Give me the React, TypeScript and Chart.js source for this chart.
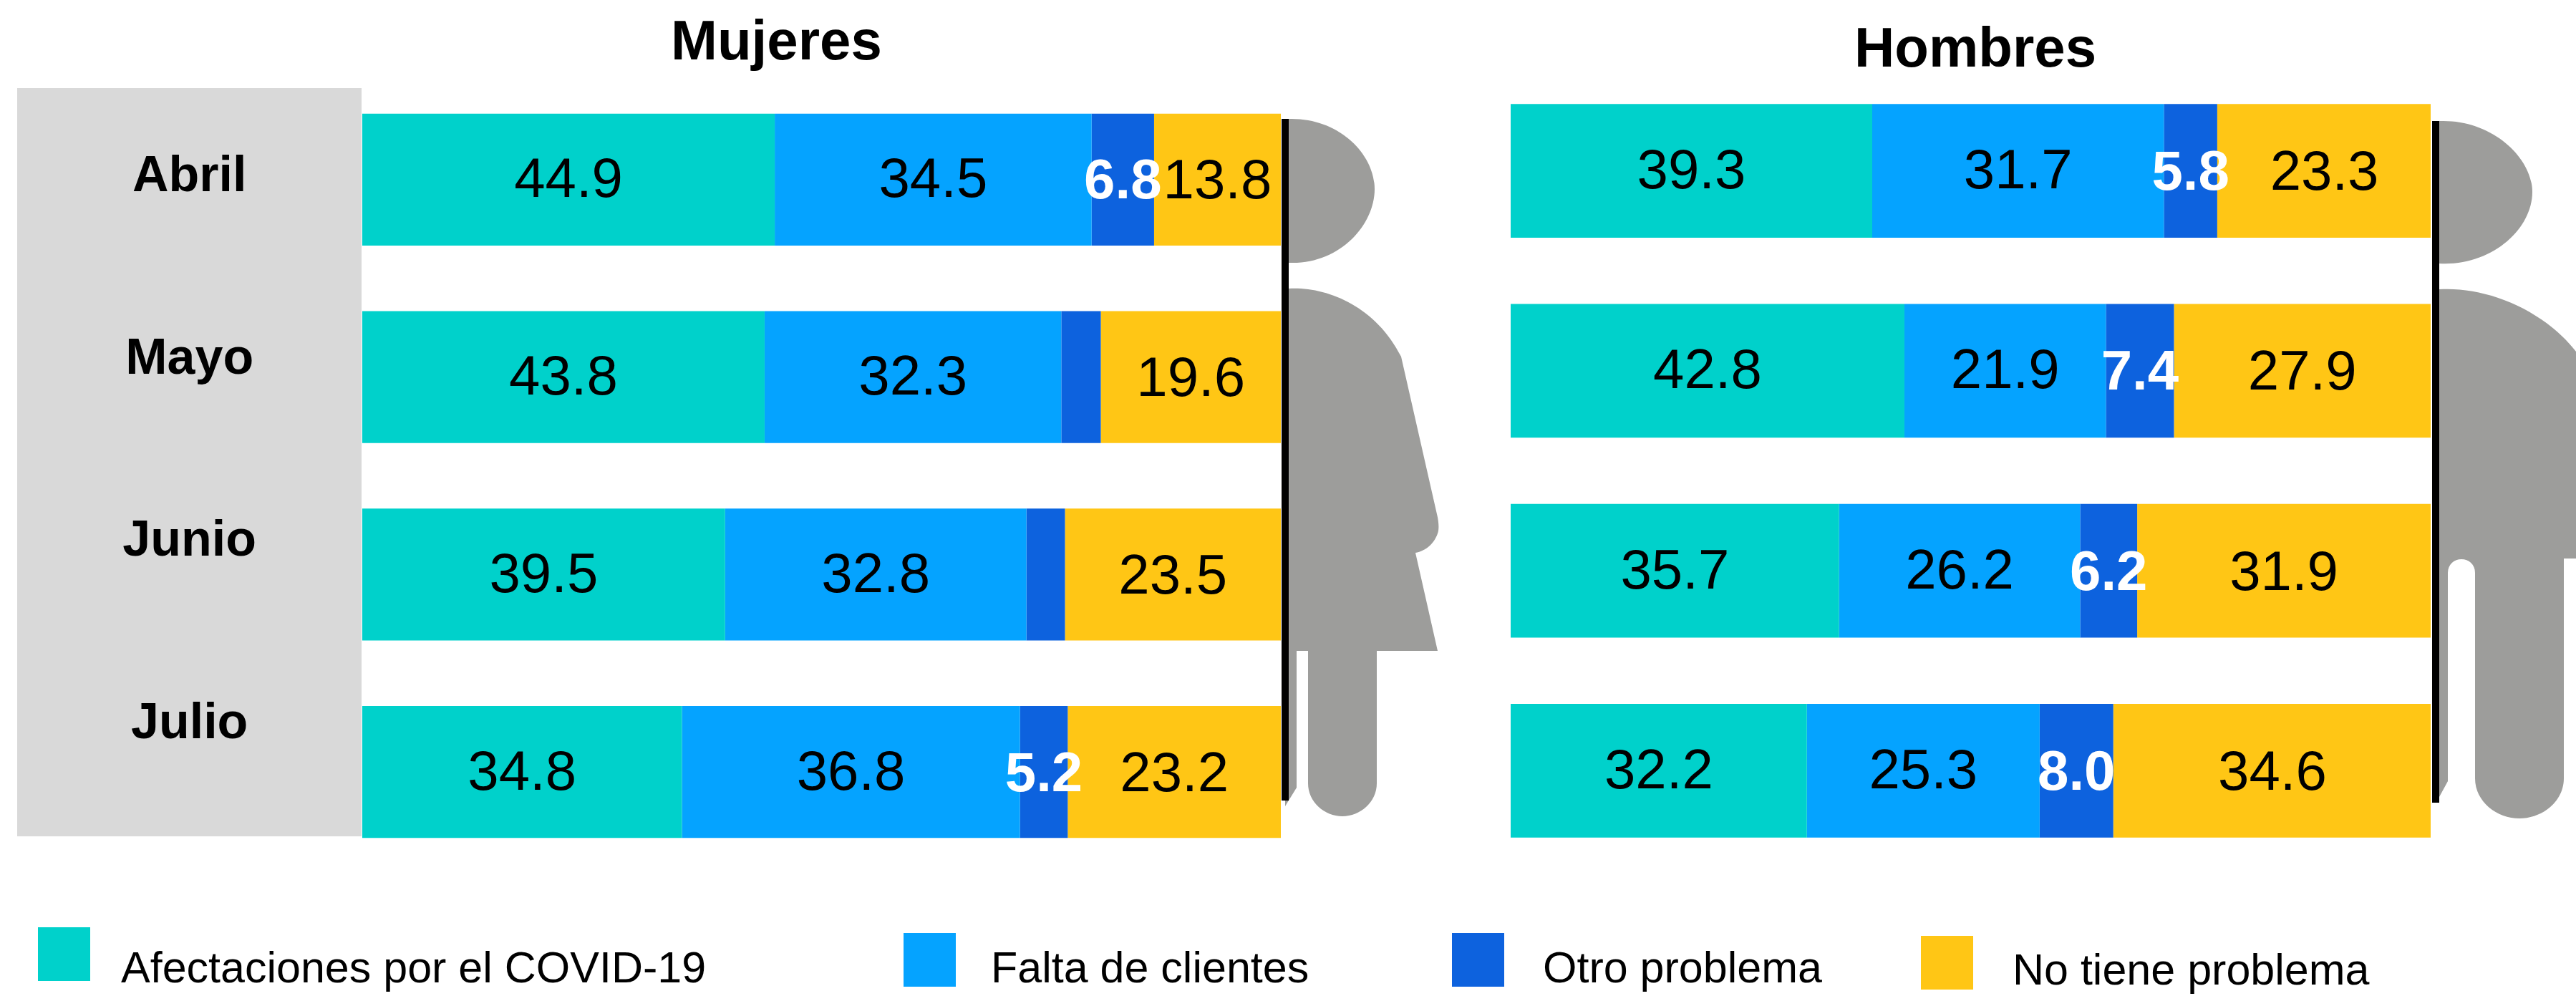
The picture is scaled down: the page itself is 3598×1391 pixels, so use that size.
import React, { useEffect, useRef } from "react";
import { Chart, registerables } from "chart.js";

Chart.register(...registerables);

const months = ["Abril", "Mayo", "Junio", "Julio"];
const seriesNames = ["Afectaciones por el COVID-19", "Falta de clientes", "Otro problema", "No tiene problema"];
const seriesColors = ["#00D1CB", "#05A3FF", "#0D62DE", "#FFC615"];

const mujeresCovid = [44.9, 43.8, 39.5, 34.8];
const mujeresClientes = [34.5, 32.3, 32.8, 36.8];
const mujeresOtro = [6.8, 4.3, 4.2, 5.2];
const mujeresNinguno = [13.8, 19.6, 23.5, 23.2];

const hombresCovid = [39.3, 42.8, 35.7, 32.2];
const hombresClientes = [31.7, 21.9, 26.2, 25.3];
const hombresOtro = [5.8, 7.4, 6.2, 8.0];
const hombresNinguno = [23.3, 27.9, 31.9, 34.6];

const FONT = '"Liberation Sans", Arial, sans-serif';
const LABEL_MIN = 5;
const LABEL_NUDGE_Y = [3, 3, 5, 5];

const valueLabels = {
  id: "valueLabels",
  afterDatasetsDraw(chart: any) {
    const { ctx } = chart;
    ctx.save();
    ctx.textAlign = "center";
    ctx.textBaseline = "middle";
    chart.data.datasets.forEach((ds: any, di: number) => {
      const meta = chart.getDatasetMeta(di);
      const isOther = di === 2;
      ctx.font = `${isOther ? "bold " : ""}78px ${FONT}`;
      ctx.fillStyle = isOther ? "#FFFFFF" : "#000000";
      meta.data.forEach((bar: any, i: number) => {
        const v = ds.data[i];
        if (v < LABEL_MIN) return;
        const p = bar.getProps(["x", "y", "base"], true);
        ctx.fillText(v.toFixed(1), (p.x + p.base) / 2, p.y + LABEL_NUDGE_Y[di]);
      });
    });
    ctx.restore();
  },
};

function makeDatasets(series: number[][]) {
  return series.map((data, i) => ({
    label: seriesNames[i],
    data,
    backgroundColor: seriesColors[i],
    borderWidth: 0,
    barPercentage: 0.668,
    categoryPercentage: 1,
  }));
}

function baseOptions(extraScales: any = {}) {
  return {
    indexAxis: "y",
    animation: false,
    responsive: false,
    maintainAspectRatio: false,
    layout: { padding: 0 },
    plugins: { legend: { display: false }, title: { display: false }, tooltip: { enabled: false } },
    scales: {
      x: { stacked: true, min: 0, max: 100, display: false },
      y: { stacked: true, display: false },
      ...extraScales,
    },
  };
}

function Panel({ series, left, top, width, height, extraScales }: any) {
  const ref = useRef<HTMLCanvasElement>(null);
  useEffect(() => {
    const chart = new Chart(ref.current as HTMLCanvasElement, {
      type: "bar",
      data: { labels: months, datasets: makeDatasets(series) },
      options: baseOptions(extraScales) as any,
      plugins: [valueLabels],
    });
    return () => chart.destroy();
  }, []);
  return (
    <canvas
      ref={ref}
      width={width}
      height={height}
      style={{ position: "absolute", left, top, width, height, display: "block" }}
    />
  );
}

const monthAxis = {
  yMonths: {
    type: "linear",
    position: "left",
    reverse: true,
    offset: false,
    min: -0.53,
    max: 3.804,
    afterBuildTicks: (s: any) => {
      s.ticks = months.map((_, value) => ({ value }));
    },
    afterFit: (s: any) => {
      s.width = 482;
      s.paddingTop = 0;
      s.paddingBottom = 0;
    },
    grid: { display: false, drawTicks: false },
    border: { display: false },
    ticks: {
      autoSkip: false,
      crossAlign: "center",
      padding: 148,
      color: "#000000",
      font: { family: FONT, size: 70, weight: "bold" },
      callback: (v: number) => months[v],
    },
  },
};

const legendBoxes = [
  { x: 53, y: 1295, w: 73, h: 75, tx: 169, ty: 1372 },
  { x: 1262, y: 1303, w: 73, h: 75, tx: 1384, ty: 1372 },
  { x: 2028, y: 1303, w: 73, h: 75, tx: 2155, ty: 1372 },
  { x: 2683, y: 1307, w: 73, h: 75, tx: 2811, ty: 1375 },
];

const womanPath =
  "M1800 166 C1870 164 1920 215 1920 264 C1920 315 1870 370 1800 367 Z " +
  "M1800 403 C1850 400 1920 425 1957 498 L2007 718 C2010 730 2010 740 2008 745 C2003 760 1990 770 1977 772 L2008 909 L1923 909 L1923 1094 " +
  "C1923 1120 1900 1140 1875 1140 C1850 1140 1827 1120 1827 1094 L1827 909 L1811 909 L1811 1100 L1795 1126 L1795 909 Z";

const manPath =
  "M3407 169 C3480 166 3537 220 3537 268 C3537 320 3480 372 3407 368 Z " +
  "M3407 404 C3470 400 3550 430 3598 491 L3598 780 L3581 780 L3581 1087 " +
  "C3581 1120 3550 1143 3519 1143 C3488 1143 3457 1120 3457 1087 L3457 800 C3457 788 3448 781 3438 781 C3428 781 3419 788 3419 800 L3419 1091 L3407 1113 Z";

export default function App() {
  return (
    <div style={{ position: "absolute", left: 0, top: 0, width: 3598, height: 1391, overflow: "hidden", background: "#FFFFFF" }}>
      <div style={{ position: "absolute", left: 24, top: 123, width: 481, height: 1045, background: "#D9D9D9" }} />
      <Panel
        series={[mujeresCovid, mujeresClientes, mujeresOtro, mujeresNinguno]}
        left={24}
        top={113}
        width={1765}
        height={1103}
        extraScales={monthAxis}
      />
      <Panel
        series={[hombresCovid, hombresClientes, hombresOtro, hombresNinguno]}
        left={2110}
        top={99}
        width={1285}
        height={1117}
      />
      <svg width={3598} height={1391} style={{ position: "absolute", left: 0, top: 0, pointerEvents: "none" }}>
        <path d={womanPath} fill="#9D9D9B" />
        <path d={manPath} fill="#9D9D9B" />
        <rect x={1790} y={166} width={10} height={952} fill="#000000" />
        <rect x={3397} y={169} width={10} height={952} fill="#000000" />
        <text x={937} y={83} fontFamily={FONT} fontWeight="bold" fontSize={78} fill="#000">Mujeres</text>
        <text x={2590} y={93} fontFamily={FONT} fontWeight="bold" fontSize={78} fill="#000">Hombres</text>
        {seriesNames.map((name, i) => {
          const b = legendBoxes[i];
          return (
            <g key={name}>
              <rect x={b.x} y={b.y} width={b.w} height={b.h} fill={seriesColors[i]} />
              <text x={b.tx} y={b.ty} fontFamily={FONT} fontSize={61} fill="#000">{name}</text>
            </g>
          );
        })}
      </svg>
    </div>
  );
}
